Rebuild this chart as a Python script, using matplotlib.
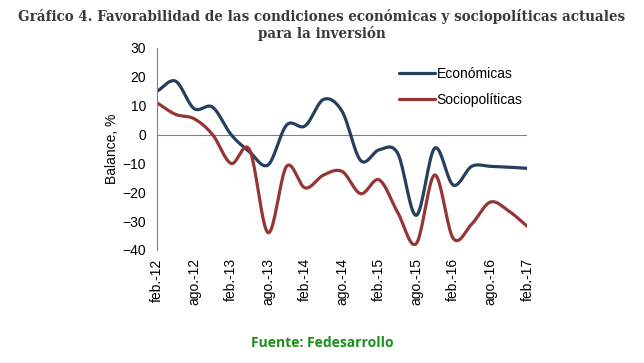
import numpy as np
import matplotlib
matplotlib.use("Agg")
import matplotlib.pyplot as plt

# quarterly survey, feb-12 .. feb-17
periodos = ["feb.-12", "may.-12", "ago.-12", "nov.-12", "feb.-13", "may.-13", "ago.-13",
            "nov.-13", "feb.-14", "may.-14", "ago.-14", "nov.-14", "feb.-15", "may.-15",
            "ago.-15", "nov.-15", "feb.-16", "may.-16", "ago.-16", "nov.-16", "feb.-17"]
economicas = [15, 18.5, 9, 9.5, 0, -6, -10.5, 3.3, 3, 12.2, 8, -9, -5.3, -6.5,
              -28, -4.7, -17.5, -11, -11, -11.3, -11.7]
sociopoliticas = [11, 7, 5.5, 0, -10, -5.3, -34, -11, -18.5, -14, -12.8, -20.5, -15.7, -27,
                  -37.8, -14, -36, -31, -23.4, -26.5, -31.8]
etiquetas = periodos[::2]

def smooth(y, n=20):
    # catmull-rom style curve through the points (like Excel smoothed lines)
    y = np.asarray(y, float)
    p = np.concatenate([[2 * y[0] - y[1]], y, [2 * y[-1] - y[-2]]])
    xs, ys = [], []
    for i in range(len(y) - 1):
        p0, p1, p2, p3 = p[i], p[i + 1], p[i + 2], p[i + 3]
        t = np.linspace(0, 1, n, endpoint=False)
        ys.append(0.5 * (2 * p1 + (-p0 + p2) * t + (2 * p0 - 5 * p1 + 4 * p2 - p3) * t ** 2
                         + (-p0 + 3 * p1 - 3 * p2 + p3) * t ** 3))
        xs.append(i + t)
    xs.append([len(y) - 1])
    ys.append([y[-1]])
    return np.concatenate(xs), np.concatenate(ys)

plt.rcParams['font.family'] = ['Liberation Sans', 'DejaVu Sans']

fig = plt.figure(figsize=(6.44, 3.63), dpi=100)
ax = fig.add_axes([0.2438, 0.3113, 0.575, 0.5565])

xe, ye = smooth(economicas)
xs_, ys_ = smooth(sociopoliticas)
ax.plot(xe, ye, color="#243f60", lw=2.3, label="Económicas", solid_capstyle="round")
ax.plot(xs_, ys_, color="#943634", lw=2.3, label="Sociopolíticas", solid_capstyle="round")

ax.axhline(0, color="#808080", lw=0.8, zorder=0)
ax.set_xlim(0, len(periodos) - 1)
ax.set_ylim(-40, 30)
ax.set_yticks(range(-40, 31, 10))
ax.set_xticks(range(0, len(periodos), 2))
ax.set_xticklabels(etiquetas, rotation=90, fontsize=10)
ax.tick_params(axis="y", labelsize=10, length=0, pad=8)
ax.tick_params(axis="x", length=0, pad=6)
for s in ["top", "right", "bottom"]:
    ax.spines[s].set_visible(False)
ax.spines["left"].set_color("#808080")
ax.spines["left"].set_linewidth(0.8)
ax.set_ylabel("Balance, %", fontsize=10, labelpad=2)

ax.legend(loc="upper left", bbox_to_anchor=(0.62, 0.97), frameon=False, fontsize=10,
          handlelength=2.6, handletextpad=0.1, labelspacing=0.9)

fig.text(0.5, 0.975, "Gráfico 4. Favorabilidad de las condiciones económicas y sociopolíticas actuales\npara la inversión",
         ha="center", va="top", fontsize=9.75, fontweight="bold", color="#3a3a3a",
         family=["DejaVu Serif"], linespacing=1.2)
fig.text(0.5, 0.055, "Fuente: Fedesarrollo", ha="center", va="center", fontsize=10,
         fontweight="bold", color="#1a8f1a", family=["Open Sans", "DejaVu Sans"])

fig.savefig("out.png", dpi=100)
